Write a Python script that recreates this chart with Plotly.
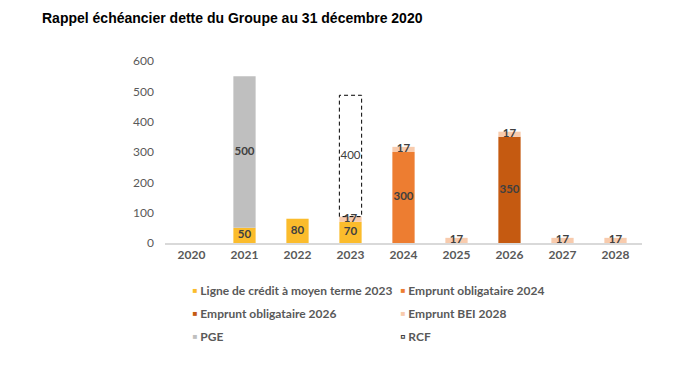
import plotly.graph_objects as go

years = ["2020", "2021", "2022", "2023", "2024", "2025", "2026", "2027", "2028"]
ligne_credit = [0, 50, 80, 70, 0, 0, 0, 0, 0]
emprunt_2024 = [0, 0, 0, 0, 300, 0, 0, 0, 0]
emprunt_2026 = [0, 0, 0, 0, 0, 0, 350, 0, 0]
emprunt_bei = [0, 0, 0, 17, 17, 17, 17, 17, 17]
pge = [0, 500, 0, 0, 0, 0, 0, 0, 0]
rcf = [0, 0, 0, 400, 0, 0, 0, 0, 0]
y_ticks = [0, 100, 200, 300, 400, 500, 600]

series = [
    ("Ligne de crédit à moyen terme 2023", ligne_credit, "#FBBC2C"),
    ("Emprunt obligataire 2024", emprunt_2024, "#ED7D31"),
    ("Emprunt obligataire 2026", emprunt_2026, "#C55A11"),
    ("Emprunt BEI 2028", emprunt_bei, "#F8CBAD"),
    ("PGE", pge, "#BFBFBF"),
]

FONT = "Lato"
BAR_W = 0.42
W, H = 672, 365  # page body has an 8px margin
xs = list(range(len(years)))
fig = go.Figure()

base = [0] * len(years)
label_x, label_y, label_t = [], [], []
for name, vals, color in series:
    fig.add_trace(go.Bar(
        x=xs, y=vals, base=base[:], width=BAR_W, marker=dict(color=color, line=dict(width=0)),
        showlegend=False, hoverinfo="skip",
    ))
    for i, v in enumerate(vals):
        if v:
            label_x.append(i)
            label_y.append(base[i] + v / 2)
            label_t.append(str(v))
    base = [b + v for b, v in zip(base, vals)]

# RCF: dashed outline, no fill, drawn on top of the stack
rx, ry = [], []
rcf_lx, rcf_ly, rcf_lt = [], [], []
for i, v in enumerate(rcf):
    if v:
        b = base[i]
        rx += [i - BAR_W / 2, i - BAR_W / 2, i + BAR_W / 2, i + BAR_W / 2, i - BAR_W / 2, None]
        ry += [b, b + v, b + v, b, b, None]
        rcf_lx.append(i)
        rcf_ly.append(b + v / 2)
        rcf_lt.append(str(v))
fig.add_trace(go.Scatter(x=rx, y=ry, mode="lines", line=dict(color="#000000", width=1, dash="4px,3px"),
                         showlegend=False, hoverinfo="skip"))

fig.add_trace(go.Scatter(x=label_x, y=label_y, text=label_t, mode="text",
                         textfont=dict(family=FONT, size=11.5, color="#404040", weight="bold"),
                         showlegend=False, hoverinfo="skip"))
fig.add_trace(go.Scatter(x=rcf_lx, y=rcf_ly, text=rcf_lt, mode="text",
                         textfont=dict(family=FONT, size=11.5, color="#404040"),
                         showlegend=False, hoverinfo="skip"))

# legend entries, one legend per row (two entries each); the key square is a glyph
INVISIBLE = dict(symbol="square", size=0, color="rgba(0,0,0,0)", opacity=0, line=dict(width=0))
legend_ids = ["legend", "legend", "legend2", "legend2", "legend3"]
for (name, vals, color), lg in zip(series, legend_ids):
    fig.add_trace(go.Scatter(
        x=[None], y=[None], mode="markers", legend=lg,
        name=f"<span style='color:{color};font-size:13px'>▪</span> {name}",
        marker=INVISIBLE))
fig.add_trace(go.Scatter(
    x=[None], y=[None], mode="markers", legend="legend3",
    name="<span style='color:#404040;font-size:13px'>▫</span> RCF",
    marker=INVISIBLE))

def legend_row(top):
    return dict(orientation="h", xref="container", yref="container", x=144 / W, xanchor="left",
                y=1 - top / H, yanchor="top", entrywidth=163, entrywidthmode="pixels",
                font=dict(family=FONT, size=12, color="#595959", weight="bold"),
                traceorder="normal", bgcolor="rgba(0,0,0,0)")

fig.update_layout(
    width=W, height=H,
    margin=dict(l=157, r=38, t=53, b=130),
    paper_bgcolor="white", plot_bgcolor="white",
    barmode="overlay",
    font=dict(family=FONT, color="#595959", size=12),
    title=dict(text="<b>Rappel échéancier dette du Groupe au 31 décembre 2020</b>",
               font=dict(family="Liberation Sans", size=14, color="#000000"),
               x=34 / W, xanchor="left", xref="container", y=1 - 10 / H, yanchor="middle", yref="container"),
    xaxis=dict(range=[-0.5, 8.5], tickvals=xs, ticktext=years, showgrid=False, zeroline=False,
               showline=True, linecolor="#D9D9D9", linewidth=1.5, ticks="",
               tickfont=dict(family=FONT, size=12, color="#595959", weight="bold"), fixedrange=True),
    yaxis=dict(range=[0, 600], tickvals=y_ticks, showgrid=False, zeroline=False, showline=False,
               ticks="", ticklabelstandoff=10,
               tickfont=dict(family=FONT, size=12, color="#595959"), fixedrange=True),
    legend=legend_row(268),
    legend2=legend_row(291),
    legend3=legend_row(314),
)

fig.write_html("out.html")
